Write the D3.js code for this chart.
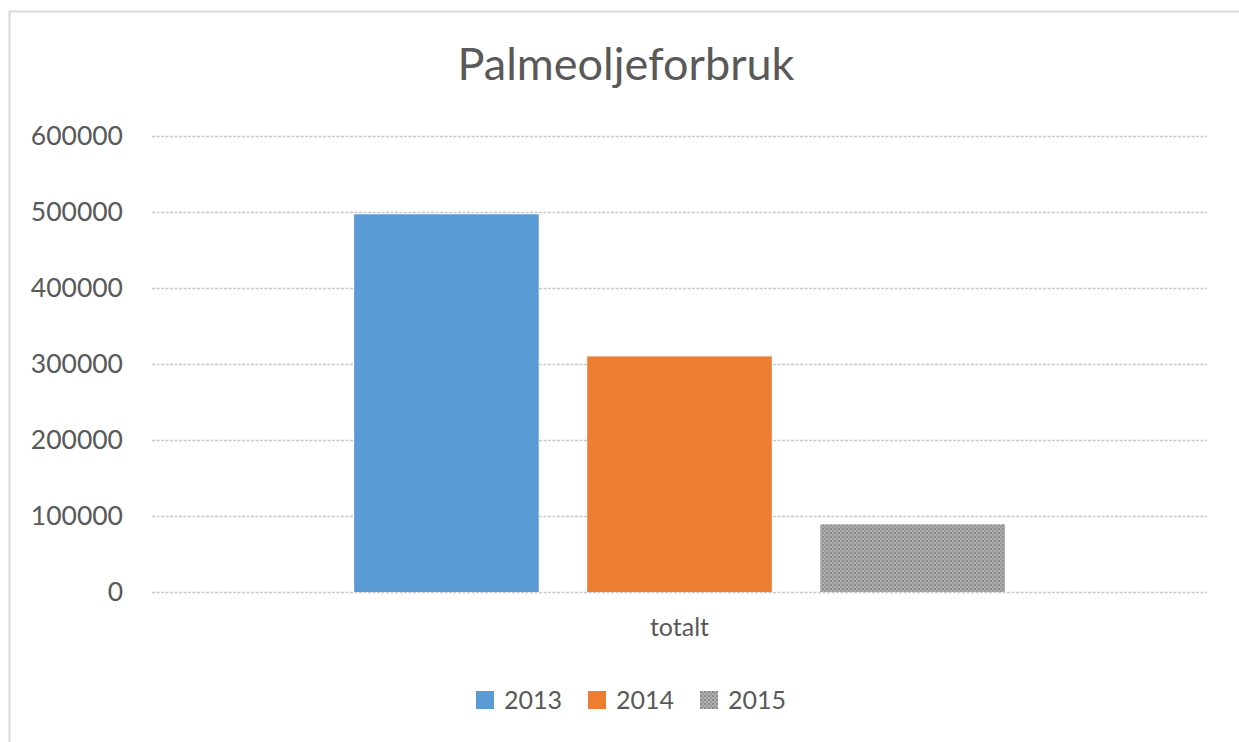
<!DOCTYPE html>
<html>
<head>
<meta charset="utf-8">
<script src="https://cdn.jsdelivr.net/npm/d3@7"></script>
<style>
  body { margin: 0; background: #fff; }
  svg { display: block; font-family: Lato, "Open Sans", sans-serif; }
</style>
</head>
<body>
<svg id="chart" width="1239" height="742"></svg>
<script>
// chart data
var categories = ["totalt"];
var seriesNames = ["2013", "2014", "2015"];
var seriesValues = [497000, 310000, 89000];
var yTicks = [0, 100000, 200000, 300000, 400000, 500000, 600000];
var seriesColors = ["#5b9bd5", "#ed7d31", "url(#dots)"];

var width = 1239, height = 742;
var plot = {left: 152, right: 1207, top: 136, bottom: 592};

var svg = d3.select("#chart");

// dotted texture for the 2015 bar
var defs = svg.append("defs");
var pat = defs.append("pattern")
    .attr("id", "dots")
    .attr("width", 4).attr("height", 4)
    .attr("patternUnits", "userSpaceOnUse");
pat.append("rect").attr("width", 4).attr("height", 4).attr("fill", "#b0b0b0");
pat.append("rect").attr("width", 2).attr("height", 2).attr("fill", "#8a8a8a");
pat.append("rect").attr("x", 2).attr("y", 2).attr("width", 2).attr("height", 2).attr("fill", "#999999");

// outer frame
svg.append("rect")
    .attr("x", 9.5).attr("y", 11.5)
    .attr("width", 1260).attr("height", 760)
    .attr("fill", "#fff")
    .attr("stroke", "#d9d9d9")
    .attr("stroke-width", 2);

var y = d3.scaleLinear()
    .domain([0, 600000])
    .range([plot.bottom, plot.top]);

var x0 = d3.scaleBand()
    .domain(categories)
    .range([plot.left, plot.right])
    .paddingInner(0.237)
    .paddingOuter(0.237);

var x1 = d3.scaleBand()
    .domain(seriesNames)
    .range([0, x0.bandwidth()])
    .paddingInner(0.208)
    .paddingOuter(0);

// title
svg.append("text")
    .attr("x", 626).attr("y", 80)
    .attr("text-anchor", "middle")
    .attr("fill", "#595959")
    .attr("font-size", 45)
    .text("Palmeoljeforbruk");

// gridlines
svg.append("g")
    .selectAll("line")
    .data(yTicks)
    .enter()
    .append("line")
    .attr("x1", plot.left).attr("x2", plot.right)
    .attr("y1", function(d) { return Math.round(y(d)) + 0.5; })
    .attr("y2", function(d) { return Math.round(y(d)) + 0.5; })
    .attr("stroke", "#c8c8c8")
    .attr("stroke-width", 1.5)
    .attr("stroke-dasharray", "3,1.5");

// y axis labels
var yAxis = d3.axisLeft(y)
    .tickValues(yTicks)
    .tickSize(0)
    .tickPadding(0)
    .tickFormat(d3.format("d"));

var ya = svg.append("g")
    .attr("transform", "translate(123,0)")
    .call(yAxis);
ya.select(".domain").remove();
ya.selectAll("text")
    .attr("fill", "#595959")
    .attr("font-size", 26.5)
    .attr("font-family", "Lato, 'Open Sans', sans-serif");

// bars
var group = svg.append("g")
    .selectAll("g")
    .data(categories)
    .enter()
    .append("g")
    .attr("transform", function(d) { return "translate(" + x0(d) + ",0)"; });

group.selectAll("rect")
    .data(seriesNames.map(function(s, i) { return {name: s, value: seriesValues[i], color: seriesColors[i]}; }))
    .enter()
    .append("rect")
    .attr("x", function(d) { return x1(d.name); })
    .attr("y", function(d) { return y(d.value); })
    .attr("width", x1.bandwidth())
    .attr("height", function(d) { return y(0) - y(d.value); })
    .attr("fill", function(d) { return d.color; });

// category label
var xAxis = d3.axisBottom(x0).tickSize(0).tickPadding(0);
var xa = svg.append("g")
    .attr("transform", "translate(0,618)")
    .call(xAxis);
xa.select(".domain").remove();
xa.selectAll("text")
    .attr("fill", "#595959")
    .attr("font-size", 25)
    .attr("font-family", "Lato, 'Open Sans', sans-serif");

// legend
var legendX = [476, 588, 700];
var legend = svg.append("g")
    .selectAll("g")
    .data(seriesNames)
    .enter()
    .append("g")
    .attr("transform", function(d, i) { return "translate(" + legendX[i] + ",691)"; });

legend.append("rect")
    .attr("width", 18).attr("height", 18)
    .attr("fill", function(d, i) { return seriesColors[i]; });

legend.append("text")
    .attr("x", 28).attr("y", 9)
    .attr("dy", "0.35em")
    .attr("fill", "#595959")
    .attr("font-size", 25)
    .text(function(d) { return d; });
</script>
</body>
</html>
